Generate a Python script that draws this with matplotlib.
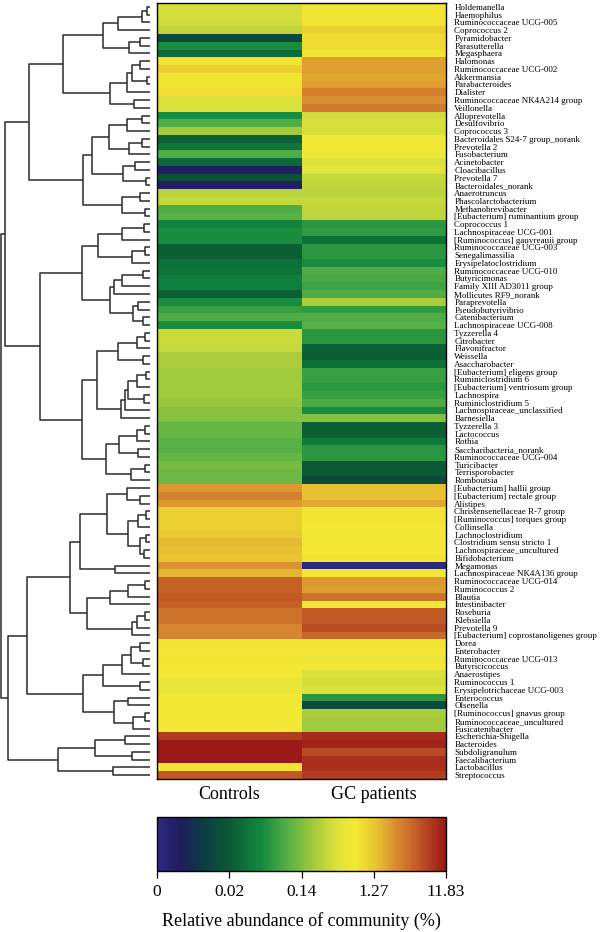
import numpy as np
import matplotlib
matplotlib.use("Agg")
import matplotlib.pyplot as plt
from matplotlib.colors import LinearSegmentedColormap, FuncNorm

genera = [
    "Holdemanella", "Haemophilus", "Ruminococcaceae UCG-005", "Coprococcus 2",
    "Pyramidobacter", "Parasutterella", "Megasphaera", "Halomonas",
    "Ruminococcaceae UCG-002", "Akkermansia", "Parabacteroides", "Dialister",
    "Ruminococcaceae NK4A214 group", "Veillonella", "Alloprevotella", "Desulfovibrio",
    "Coprococcus 3", "Bacteroidales S24-7 group_norank", "Prevotella 2", "Fusobacterium",
    "Acinetobacter", "Cloacibacillus", "Prevotella 7", "Bacteroidales_norank",
    "Anaerotruncus", "Phascolarctobacterium", "Methanobrevibacter",
    "[Eubacterium] ruminantium group", "Coprococcus 1", "Lachnospiraceae UCG-001",
    "[Ruminococcus] gauvreauii group", "Ruminococcaceae UCG-003", "Senegalimassilia",
    "Erysipelatoclostridium", "Ruminococcaceae UCG-010", "Butyricimonas",
    "Family XIII AD3011 group", "Mollicutes RF9_norank", "Paraprevotella",
    "Pseudobutyrivibrio", "Catenibacterium", "Lachnospiraceae UCG-008", "Tyzzerella 4",
    "Citrobacter", "Flavonifractor", "Weissella", "Asaccharobacter",
    "[Eubacterium] eligens group", "Ruminiclostridium 6", "[Eubacterium] ventriosum group",
    "Lachnospira", "Ruminiclostridium 5", "Lachnospiraceae_unclassified", "Barnesiella",
    "Tyzzerella 3", "Lactococcus", "Rothia", "Saccharibacteria_norank",
    "Ruminococcaceae UCG-004", "Turicibacter", "Terrisporobacter", "Romboutsia",
    "[Eubacterium] hallii group", "[Eubacterium] rectale group", "Alistipes",
    "Christensenellaceae R-7 group", "[Ruminococcus] torques group", "Collinsella",
    "Lachnoclostridium", "Clostridium sensu stricto 1", "Lachnospiraceae_uncultured",
    "Bifidobacterium", "Megamonas", "Lachnospiraceae NK4A136 group",
    "Ruminococcaceae UCG-014", "Ruminococcus 2", "Blautia", "Intestinibacter",
    "Roseburia", "Klebsiella", "Prevotella 9", "[Eubacterium] coprostanoligenes group",
    "Dorea", "Enterobacter", "Ruminococcaceae UCG-013", "Butyricicoccus",
    "Anaerostipes", "Ruminococcus 1", "Erysipelotrichaceae UCG-003", "Enterococcus",
    "Olsenella", "[Ruminococcus] gnavus group", "Ruminococcaceae_uncultured",
    "Fusicatenibacter", "Escherichia-Shigella", "Bacteroides", "Subdoligranulum",
    "Faecalibacterium", "Lactobacillus", "Streptococcus",
]

# relative abundance (%)
controls = [
    0.38, 0.38, 0.35, 0.28, 0.013, 0.05, 0.027, 0.8, 1.1, 0.8,
    0.8, 0.85, 0.4, 0.4, 0.05, 0.09, 0.2, 0.023, 0.032, 0.09,
    0.027, 0.004, 0.016, 0.004, 0.27, 0.3, 0.09, 0.1, 0.042, 0.05,
    0.05, 0.022, 0.022, 0.03, 0.032, 0.04, 0.038, 0.022, 0.05, 0.07,
    0.09, 0.05, 0.33, 0.33, 0.3, 0.22, 0.22, 0.2, 0.2, 0.2,
    0.2, 0.19, 0.15, 0.15, 0.11, 0.11, 0.1, 0.1, 0.11, 0.13,
    0.12, 0.12, 2.2, 3.0, 2.2, 1.1, 1.1, 1.1, 1.2, 1.5,
    1.4, 1.3, 2.3, 1.6, 4.5, 4.5, 5.0, 4.5, 3.5, 3.5,
    2.8, 2.8, 0.8, 0.75, 0.8, 0.75, 0.7, 0.55, 0.55, 0.7,
    0.75, 0.75, 0.75, 0.75, 7.5, 11.5, 11.5, 11.5, 0.8, 5.0,
]
gc_patients = [
    0.8, 0.8, 0.8, 1.1, 0.9, 0.9, 0.8, 2.0, 2.0, 1.9,
    2.0, 3.0, 2.4, 3.2, 0.35, 0.4, 0.38, 0.7, 0.7, 0.65,
    0.42, 0.45, 0.3, 0.28, 0.27, 0.3, 0.28, 0.28, 0.06, 0.065,
    0.03, 0.06, 0.06, 0.05, 0.09, 0.085, 0.075, 0.09, 0.22, 0.065,
    0.09, 0.1, 0.06, 0.06, 0.023, 0.022, 0.03, 0.07, 0.07, 0.06,
    0.07, 0.085, 0.05, 0.15, 0.022, 0.022, 0.036, 0.06, 0.06, 0.02,
    0.02, 0.013, 1.4, 1.4, 1.8, 0.8, 0.8, 0.75, 0.75, 0.7,
    0.75, 0.8, 0.0025, 0.7, 2.2, 2.0, 3.5, 0.75, 5.0, 5.0,
    6.0, 4.0, 0.8, 0.75, 0.6, 0.7, 0.4, 0.38, 0.42, 0.06,
    0.013, 0.22, 0.2, 0.2, 9.5, 10.0, 6.0, 8.5, 8.5, 7.5,
]
groups = ["Controls", "GC patients"]
cbar_ticks = [0.0022, 0.02, 0.14, 1.27, 11.83]
cbar_labels = ["0", "0.02", "0.14", "1.27", "11.83"]

# row clustering: (merge distance, left, right), leaves are row indices
tree = (149,
        (145,
         (121,
          (87,
           (47, (32, (8, (3, 0, 1), 2), 3), (21, (10, 4, 5), 6)),
           (40, (23, (18, (10, 7, 8), (3, 9, 10)), 11), (16, 12, 13))),
          (67,
           (58,
            (41, (23, (8, 14, 15), 16), (21, (8, 17, 18), 19)),
            (27, (15, 20, 21), (4, 22, 23))),
           (28, (10, 24, 25), (5, 26, 27)))),
         (110,
          (68,
           (52, (28, (6, 28, 29), 30), (18, (5, 31, 32), 33)),
           (40, (36, (28, (7, 34, 35), 36), 37), (17, (12, 38, 39), (7, 40, 41)))),
          (68,
           (53,
            (32, (13, (5, 42, 43), 44), (7, 45, 46)),
            (29, (25, (22, (13, (4, 47, 48), 49), (6, 50, 51)), 52), 53)),
           (44,
            (31, (13, (5, 54, 55), 56), (12, 57, 58)),
            (19, (5, 59, 60), 61))))),
        (142,
         (123,
          (80,
           (70,
            (43, (23, 62, (10, 63, 64)),
             (22, (12, (4, 65, 66), 67), (10, (4, 68, 69), (6, 70, 71)))),
            (35, 72, 73)),
           (63,
            (40, (22, (5, 74, 75), 76), 77),
            (18, (13, (5, 78, 79), 80), 81))),
          (67,
           (47, (28, (19, (10, 82, 83), (7, 84, 85)), 86), (10, 87, 88)),
           (36, (22, 89, 90), (17, (5, 91, 92), 93)))),
         (92, (55, (25, 94, 95), (18, 96, 97)), (37, 98, 99))))

serif = ["Liberation Serif", "DejaVu Serif"]
plt.rcParams["font.family"] = serif

W, H = 600, 932
fig = plt.figure(figsize=(W / 100, H / 100), dpi=100)


def box(x0, y0, x1, y1):
    return [x0 / W, 1 - y1 / H, (x1 - x0) / W, (y1 - y0) / H]


cmap = LinearSegmentedColormap.from_list("abund", [
    (0.00, "#2c2b82"), (0.08, "#201c5c"), (0.15, "#0c3a44"), (0.25, "#0b5a34"),
    (0.36, "#12893e"), (0.46, "#5cb345"), (0.55, "#a9cc3c"), (0.63, "#e2e43a"),
    (0.69, "#f3e833"), (0.76, "#e8c231"), (0.83, "#d88b30"), (0.91, "#c05525"),
    (1.00, "#9a1818")])
logt = np.log10(cbar_ticks)


def fwd(v):
    return np.interp(np.log10(np.clip(v, 1e-4, None)), logt, np.arange(len(logt)))


def inv(p):
    return 10 ** np.interp(p, np.arange(len(logt)), logt)


norm = FuncNorm((fwd, inv), vmin=cbar_ticks[0], vmax=cbar_ticks[-1])

n = len(genera)
data = np.column_stack([controls, gc_patients])

# heatmap
ax = fig.add_axes(box(157, 3, 446, 779))
mesh = ax.pcolormesh(np.arange(3), np.arange(n + 1), data, cmap=cmap, norm=norm,
                     shading="flat", edgecolors="none")
ax.set_xlim(0, 2)
ax.set_ylim(n, 0)
ax.yaxis.tick_right()
ax.set_yticks(np.arange(n) + 0.5)
ax.set_yticklabels(genera, fontsize=6.5)
ax.set_xticks([0.5, 1.5])
ax.set_xticklabels(groups, fontsize=13)
ax.tick_params(length=0, pad=6)
ax.tick_params(axis="x", pad=5)
for s in ax.spines.values():
    s.set_linewidth(1.0)

# dendrogram
axd = fig.add_axes(box(0, 3, 155, 779))
axd.set_xlim(150, -5)
axd.set_ylim(n, 0)
axd.axis("off")


def draw(node):
    if isinstance(node, int):
        return node + 0.5, 0
    d, a, b = node
    ya, da = draw(a)
    yb, db = draw(b)
    kw = dict(color="#2b2b2b", lw=1.1, solid_capstyle="butt")
    axd.plot([da, d, d, db], [ya, ya, yb, yb], **kw)
    return (ya + yb) / 2, d


draw(tree)

# colour bar
cax = fig.add_axes(box(157, 817, 446, 871))
cb = fig.colorbar(mesh, cax=cax, orientation="horizontal")
cb.set_ticks(cbar_ticks)
cb.set_ticklabels(cbar_labels)
cb.ax.tick_params(labelsize=12.5, length=5, width=0.9, pad=4)
cb.ax.minorticks_off()
cb.outline.set_linewidth(1.0)
cb.set_label("Relative abundance of community (%)", fontsize=13, labelpad=9)

fig.savefig("out.png", dpi=100)
